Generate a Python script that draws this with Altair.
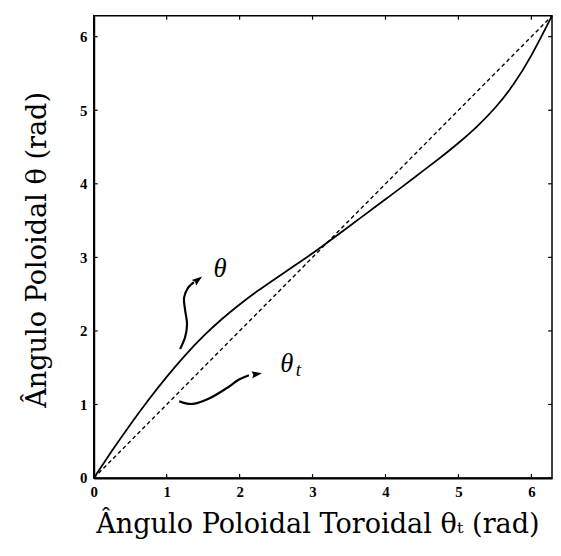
import altair as alt
import pandas as pd

TWO_PI = 6.2832

# Solid curve: poloidal angle theta vs toroidal poloidal angle theta_t
theta_t = [0, 0.25, 0.5, 0.75, 1.0, 1.25, 1.5, 1.75, 2.0, 2.25, 2.5, 2.75, 3.0,
           3.25, 3.5, 3.75, 4.0, 4.25, 4.5, 4.75, 5.0, 5.25, 5.5, 5.75, 6.0, 6.2832]
theta = [0, 0.37, 0.725, 1.06, 1.375, 1.665, 1.925, 2.155, 2.36, 2.545, 2.717, 2.885, 3.055,
         3.235, 3.42, 3.605, 3.79, 3.975, 4.165, 4.355, 4.555, 4.775, 5.03, 5.345, 5.745, 6.2832]

# Dashed reference line theta = theta_t
ident_x = [0, TWO_PI]
ident_y = [0, TWO_PI]

# Hand-drawn annotation arrows
arrow1_x = [1.184, 1.252, 1.279, 1.252, 1.238, 1.292, 1.373]
arrow1_y = [1.754, 1.914, 2.088, 2.289, 2.450, 2.584, 2.664]
arrow2_x = [1.171, 1.279, 1.386, 1.588, 1.817, 1.992, 2.127]
arrow2_y = [1.044, 1.011, 1.011, 1.084, 1.218, 1.339, 1.399]
head_x = [1.420, 2.225]
head_y = [2.690, 1.412]
head_angle = [52, 82]

# Annotation labels
lab_theta = ("θ", 1.73, 2.84)
lab_thetat = ("θ", 2.645, 1.553)
lab_sub = ("t", 2.806, 1.466)

tick_vals = [0, 1, 2, 3, 4, 5, 6]

W, H = 465, 469

xs = alt.Scale(domain=[0, TWO_PI], nice=False, zero=False)
ys = alt.Scale(domain=[0, TWO_PI], nice=False, zero=False)

common_axis = dict(
    values=tick_vals, format="d", grid=False, ticks=False,
    domainColor="black", domainWidth=2,
    labelFont="Liberation Serif", labelFontWeight="bold", labelFontSize=15,
    labelColor="black", labelFlush=False, labelOverlap=False,
    titleFont="DejaVu Serif", titleFontSize=27.5, titleFontWeight="normal",
    titleColor="black", titleAlign="center", titleBaseline="alphabetic",
)
xaxis = alt.Axis(title="Ângulo Poloidal Toroidal θₜ (rad)", labelPadding=7,
                 titleX=227, titleY=55, **common_axis)
yaxis = alt.Axis(title="Ângulo Poloidal θ (rad)", labelPadding=7,
                 titleX=-49, titleY=237, titleAngle=270, **common_axis)


def X(f):
    return alt.X(f, type="quantitative", scale=xs, axis=xaxis)


def Y(f):
    return alt.Y(f, type="quantitative", scale=ys, axis=yaxis)


curve_df = pd.DataFrame({"x": theta_t, "y": theta})
ident_df = pd.DataFrame({"x": ident_x, "y": ident_y})
arrows_df = pd.DataFrame({
    "x": arrow1_x + arrow2_x,
    "y": arrow1_y + arrow2_y,
    "id": ["a"] * len(arrow1_x) + ["b"] * len(arrow2_x),
    "i": list(range(len(arrow1_x))) + list(range(len(arrow2_x))),
})
heads_df = pd.DataFrame({"x": head_x, "y": head_y, "ang": head_angle})
ticks_df = pd.DataFrame({"v": tick_vals})

ident = alt.Chart(ident_df).mark_line(
    color="black", strokeWidth=1.4, strokeDash=[4, 3]
).encode(x=X("x"), y=Y("y"))

curve = alt.Chart(curve_df).mark_line(
    color="black", strokeWidth=1.8, interpolate="natural"
).encode(x=X("x"), y=Y("y"))

shafts = alt.Chart(arrows_df).mark_line(
    color="black", strokeWidth=2.2, interpolate="catmull-rom"
).encode(x=X("x"), y=Y("y"), detail="id:N", order="i:Q")

heads = alt.Chart(heads_df).mark_point(
    shape="M0,-1L0.6,0.7L0,0.45L-0.6,0.7Z", filled=True, color="black",
    opacity=1, size=150
).encode(x=X("x"), y=Y("y"), angle=alt.Angle("ang:Q", scale=None))


def label(t, x, y, size):
    df = pd.DataFrame({"t": [t], "x": [x], "y": [y]})
    return alt.Chart(df).mark_text(
        font="Liberation Serif", fontStyle="italic", fontSize=size,
        color="black", align="center", baseline="middle"
    ).encode(x=X("x"), y=Y("y"), text="t:N")


labels = (label(*lab_theta, 27) + label(*lab_thetat, 27) + label(*lab_sub, 19))

tick_bottom = alt.Chart(ticks_df).mark_rule(color="black", strokeWidth=1.2).encode(
    x=X("v"), y=alt.value(H), y2=alt.value(H - 4))
tick_top = alt.Chart(ticks_df).mark_rule(color="black", strokeWidth=1.2).encode(
    x=X("v"), y=alt.value(0), y2=alt.value(4))
tick_left = alt.Chart(ticks_df).mark_rule(color="black", strokeWidth=1.2).encode(
    y=Y("v"), x=alt.value(0), x2=alt.value(4))
tick_right = alt.Chart(ticks_df).mark_rule(color="black", strokeWidth=1.2).encode(
    y=Y("v"), x=alt.value(W - 4), x2=alt.value(W))

chart = alt.layer(
    ident, curve, shafts, heads, labels,
    tick_bottom, tick_top, tick_left, tick_right
).properties(
    width=W, height=H,
    padding={"left": 87, "top": 4, "right": 1, "bottom": 66},
    autosize=alt.AutoSizeParams(type="none"),
).configure_view(stroke="black", strokeWidth=1.5)

chart.save("out.html", embed_options={"renderer": "svg", "actions": False})
